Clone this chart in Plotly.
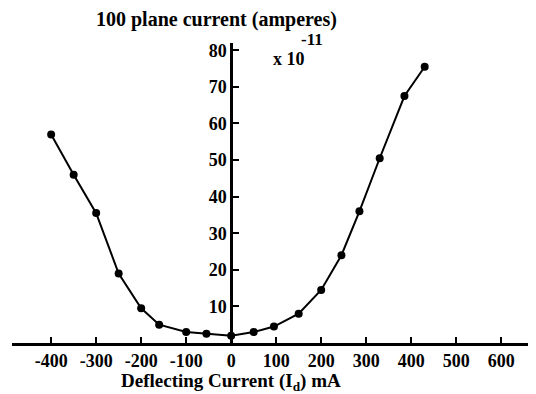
import plotly.graph_objects as go

deflecting_current = [-400, -350, -300, -250, -200, -160, -100, -55, 0, 50, 95, 150, 200, 245, 285, 330, 385, 430]
plane_current = [57, 46, 35.5, 19, 9.5, 5, 3, 2.5, 2, 3, 4.5, 8, 14.5, 24, 36, 50.5, 67.5, 75.5]
x_ticks = [-400, -300, -200, -100, 0, 100, 200, 300, 400, 500, 600]
y_ticks = [10, 20, 30, 40, 50, 60, 70, 80]

FONT = "Liberation Serif"
xmin, xmax = -487, 664

fig = go.Figure()
fig.add_trace(go.Scatter(
    x=deflecting_current, y=plane_current, mode="lines+markers",
    line=dict(color="black", width=2),
    marker=dict(color="black", size=8),
    showlegend=False,
))

# page body has an 8px default margin, so the plot area is offset by -8px here
fig.update_layout(
    width=536, height=394,
    margin=dict(l=4, r=14, t=35, b=59, autoexpand=False),
    paper_bgcolor="white", plot_bgcolor="white",
    font=dict(family=FONT, color="black"),
    xaxis=dict(
        range=[xmin, xmax], showgrid=False, zeroline=False, automargin=False,
        showline=True, linecolor="black", linewidth=2.5,
        tickmode="array", tickvals=x_ticks, ticktext=[str(v) for v in x_ticks],
        ticks="inside", ticklen=6, tickwidth=2, tickcolor="black",
        tickfont=dict(family=FONT, size=18, weight="bold", color="black"),
        anchor="y",
    ),
    yaxis=dict(
        range=[0, 82], showgrid=False, zeroline=False, automargin=False,
        showline=True, linecolor="black", linewidth=2.5,
        anchor="free", position=(0 - xmin) / (xmax - xmin),
        tickmode="array", tickvals=y_ticks, ticktext=[str(v) for v in y_ticks],
        ticks="inside", ticklen=6, tickwidth=2, tickcolor="black",
        tickfont=dict(family=FONT, size=18, weight="bold", color="black"),
    ),
    annotations=[
        dict(text="<b>100 plane current (amperes)</b>", x=0.394, xref="paper", y=1.077, yref="paper",
             showarrow=False, font=dict(family=FONT, size=20, color="black"),
             xanchor="center", yanchor="middle"),
        dict(text="<b>x 10</b>", x=0.535, xref="paper", y=0.947, yref="paper",
             showarrow=False, font=dict(family=FONT, size=18, color="black"),
             xanchor="center", yanchor="middle"),
        dict(text="<b>-11</b>", x=0.579, xref="paper", y=1.01, yref="paper",
             showarrow=False, font=dict(family=FONT, size=17, color="black"),
             xanchor="center", yanchor="middle"),
        dict(text="<b>Deflecting Current (I<sub>d</sub>) mA</b>", x=0, xref="x", y=-0.13, yref="paper",
             showarrow=False, font=dict(family=FONT, size=19, color="black"),
             xanchor="center", yanchor="middle"),
    ],
)

fig.write_html("out.html")
